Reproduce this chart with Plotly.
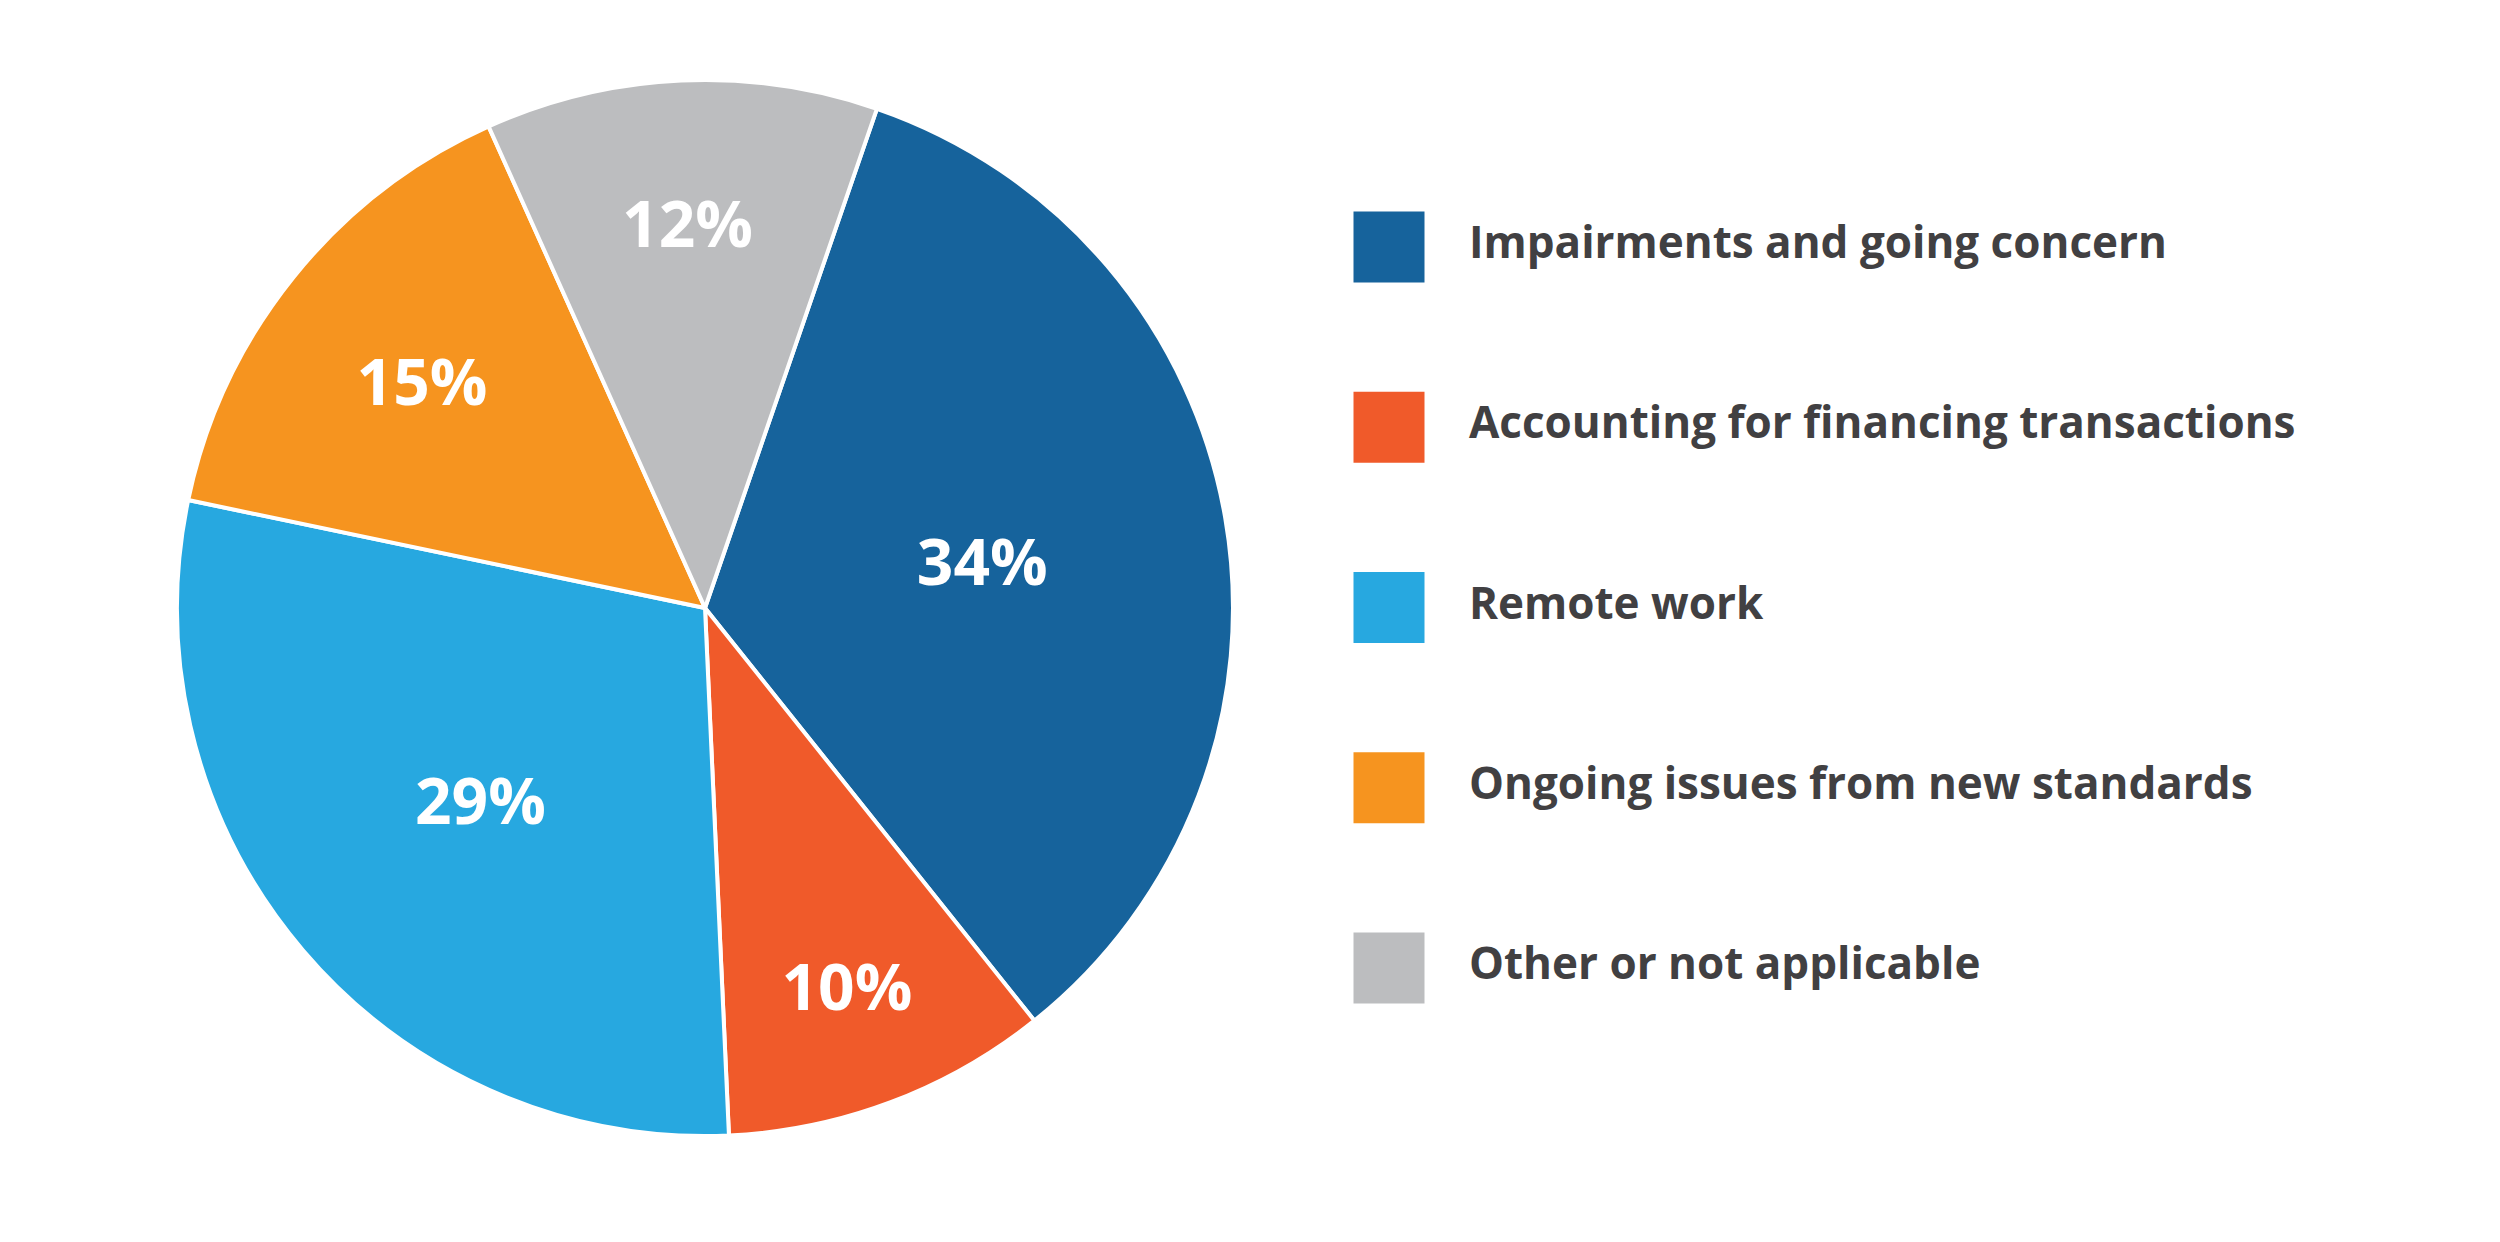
import plotly.graph_objects as go

# data
labels = ["Impairments and going concern",
          "Accounting for financing transactions",
          "Remote work",
          "Ongoing issues from new standards",
          "Other or not applicable"]
shares = [34, 10, 29, 15, 12]
colors = ["#16639C", "#F05A2A", "#27A8E0", "#F6941F", "#BCBDBF"]

fig = go.Figure()

# pie
fig.add_trace(go.Pie(
    labels=labels,
    values=shares,
    sort=False,
    direction="clockwise",
    rotation=19,
    marker=dict(colors=colors, line=dict(color="white", width=4)),
    texttemplate="%{value}%",
    textposition="inside",
    insidetextorientation="horizontal",
    textfont=dict(family="Open Sans", size=64, color="white", weight="bold"),
    domain=dict(x=[0.0676, 0.49], y=[0.0918, 0.942]),
    showlegend=False,
    hoverinfo="label+percent",
))

# legend squares drawn as a scatter on hidden axes
fig.add_trace(go.Scatter(
    x=[0] * len(labels),
    y=labels,
    mode="markers",
    marker=dict(symbol="square", size=71, color=colors, line=dict(width=0)),
    showlegend=False,
    hoverinfo="skip",
))
fig.add_trace(go.Scatter(
    x=[1] * len(labels),
    y=labels,
    mode="text",
    text=labels,
    textposition="middle right",
    textfont=dict(family="Open Sans", size=44, color="#414042", weight="bold"),
    showlegend=False,
    hoverinfo="skip",
))

fig.update_layout(
    width=2500,
    height=1242,
    margin=dict(l=0, r=0, t=0, b=0),
    paper_bgcolor="white",
    plot_bgcolor="white",
    xaxis=dict(range=[-17.2625, 13.9875], visible=False, fixedrange=True),
    yaxis=dict(range=[5.564, -1.326], visible=False, fixedrange=True,
               type="category"),
)

fig.write_html("out.html")
